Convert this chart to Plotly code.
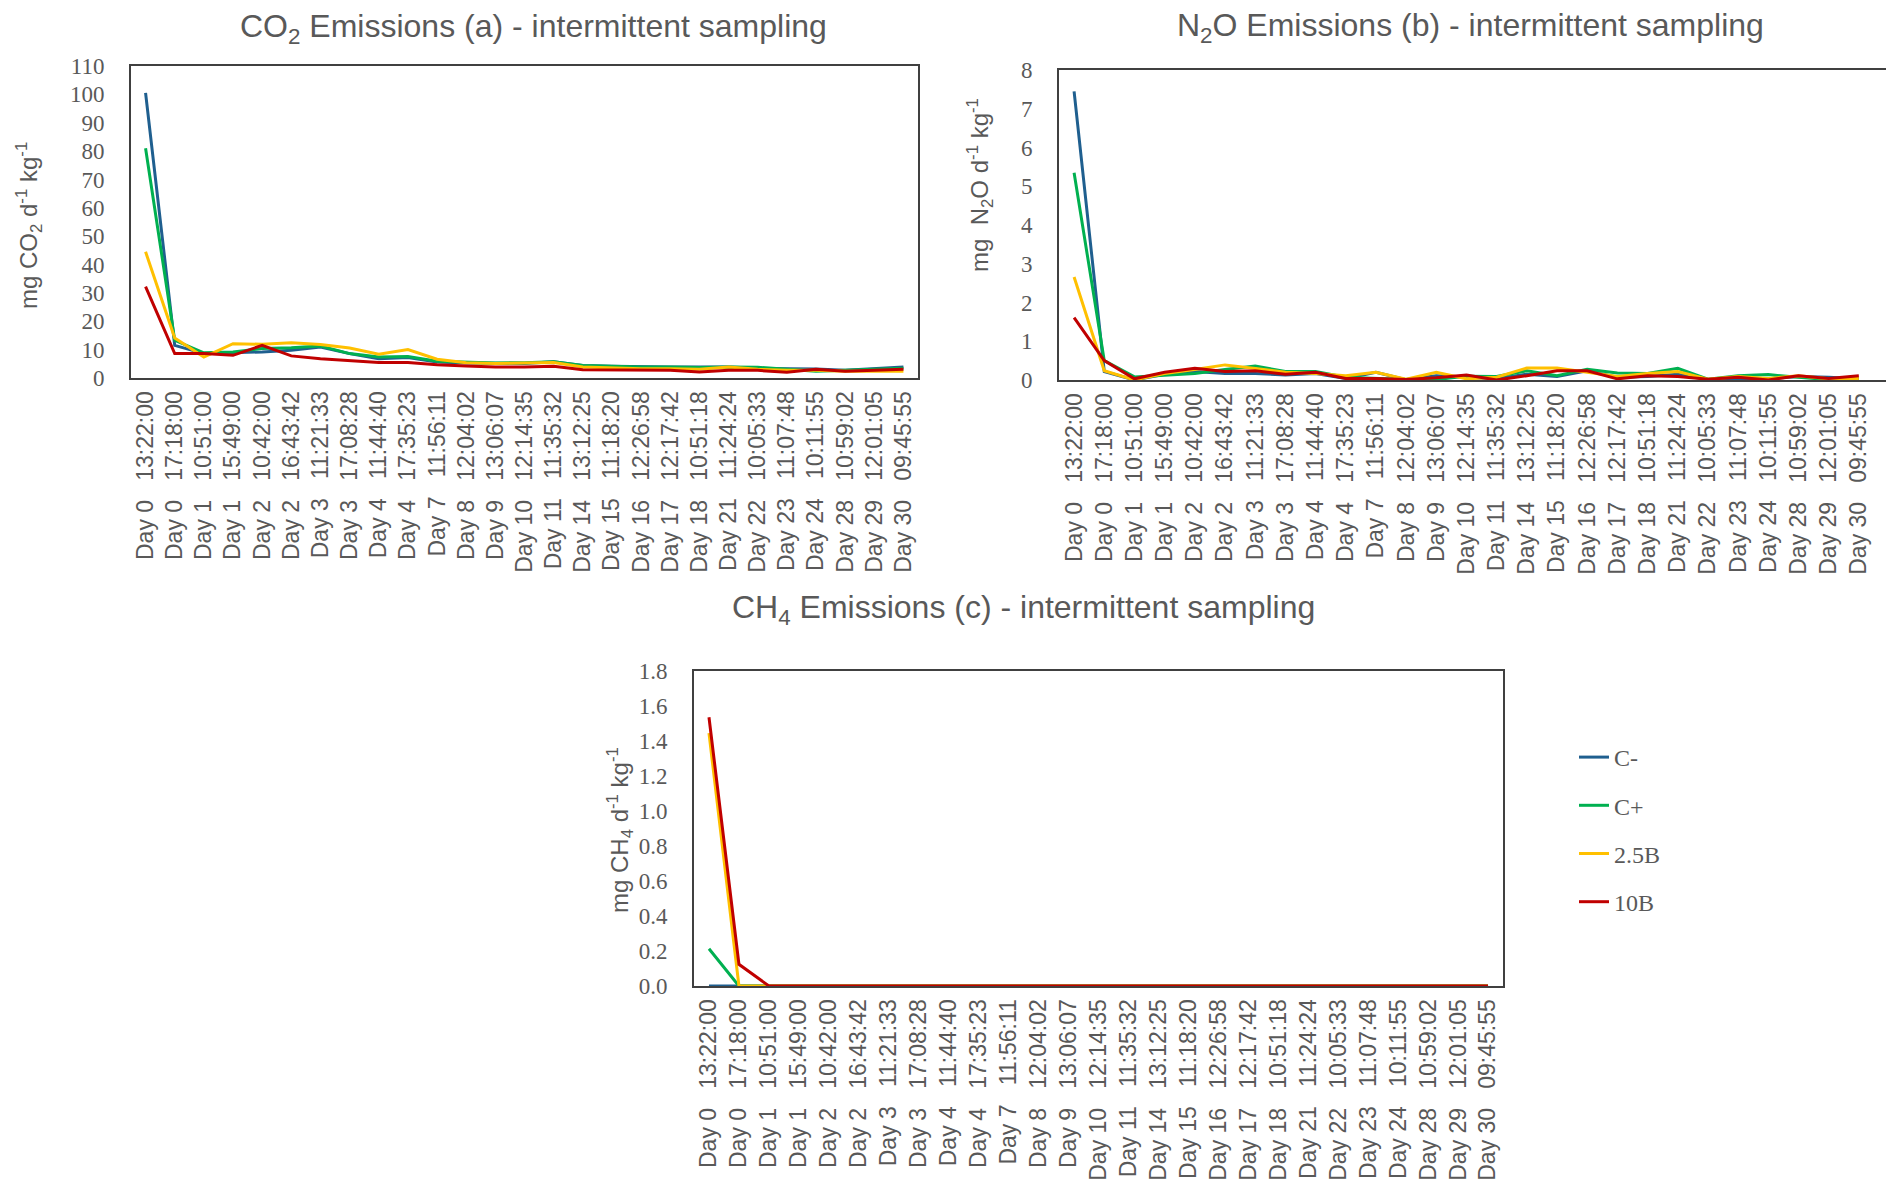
import plotly.graph_objects as go

# ---------------- data ----------------
days = ["Day 0", "Day 0", "Day 1", "Day 1", "Day 2", "Day 2", "Day 3", "Day 3", "Day 4", "Day 4",
        "Day 7", "Day 8", "Day 9", "Day 10", "Day 11", "Day 14", "Day 15", "Day 16", "Day 17", "Day 18",
        "Day 21", "Day 22", "Day 23", "Day 24", "Day 28", "Day 29", "Day 30"]
times = ["13:22:00", "17:18:00", "10:51:00", "15:49:00", "10:42:00", "16:43:42", "11:21:33", "17:08:28",
         "11:44:40", "17:35:23", "11:56:11", "12:04:02", "13:06:07", "12:14:35", "11:35:32", "13:12:25",
         "11:18:20", "12:26:58", "12:17:42", "10:51:18", "11:24:24", "10:05:33", "11:07:48", "10:11:55",
         "10:59:02", "12:01:05", "09:45:55"]
series_names = ["C-", "C+", "2.5B", "10B"]

co2_c_minus = [100.5, 11.5, 8.6, 8.9, 9.2, 9.8, 10.9, 8.6, 6.8, 7.2, 5.6, 5.3, 5.1, 5.1, 5.7, 4.4, 4.1, 3.9, 3.9, 3.9, 3.9, 3.4, 3.3, 3.2, 2.7, 3.3, 3.9]
co2_c_plus = [81.0, 13.3, 8.9, 9.2, 10.4, 10.7, 11.3, 8.6, 7.4, 7.6, 5.9, 5.5, 5.3, 5.4, 5.7, 4.4, 4.1, 3.9, 3.9, 3.7, 3.9, 3.8, 3.1, 2.4, 2.7, 3.1, 3.4]
co2_25b = [44.5, 14.1, 7.4, 12.1, 11.9, 12.4, 11.8, 10.6, 8.4, 10.0, 6.6, 5.4, 5.1, 5.3, 5.5, 3.9, 3.5, 3.3, 3.3, 3.1, 3.9, 3.1, 2.7, 2.7, 2.4, 2.5, 2.4]
co2_10b = [32.2, 8.6, 8.6, 8.0, 11.5, 7.8, 6.8, 6.2, 5.5, 5.5, 4.7, 4.2, 3.9, 3.9, 4.1, 2.9, 2.8, 2.7, 2.7, 2.1, 2.7, 2.7, 2.0, 3.1, 2.4, 2.7, 3.1]

n2o_c_minus = [7.45, 0.22, 0.0, 0.15, 0.22, 0.17, 0.17, 0.13, 0.17, 0.04, 0.2, 0.01, 0.11, 0.07, 0.03, 0.15, 0.09, 0.24, 0.07, 0.09, 0.15, 0.01, 0.01, 0.03, 0.09, 0.07, 0.03]
n2o_c_plus = [5.35, 0.5, 0.08, 0.13, 0.17, 0.27, 0.36, 0.22, 0.22, 0.07, 0.04, 0.01, 0.01, 0.1, 0.09, 0.24, 0.11, 0.28, 0.18, 0.17, 0.30, 0.02, 0.11, 0.14, 0.07, 0.01, 0.03]
n2o_25b = [2.66, 0.24, 0.0, 0.17, 0.27, 0.39, 0.30, 0.2, 0.17, 0.11, 0.2, 0.02, 0.2, 0.03, 0.07, 0.31, 0.31, 0.2, 0.09, 0.17, 0.22, 0.02, 0.09, 0.04, 0.11, 0.03, 0.04]
n2o_10b = [1.61, 0.5, 0.03, 0.2, 0.30, 0.22, 0.24, 0.15, 0.2, 0.04, 0.04, 0.01, 0.06, 0.13, 0.0, 0.11, 0.24, 0.24, 0.03, 0.11, 0.09, 0.02, 0.07, 0.0, 0.11, 0.04, 0.11]

ch4_c_minus = [0.0] * 27
ch4_c_plus = [0.213, 0.0, 0.0, 0.0, 0.0, 0.0, 0.0, 0.0, 0.0, 0.0, 0.0, 0.0, 0.0, 0.0, 0.0, 0.0, 0.0, 0.0, 0.0, 0.0, 0.0, 0.0, 0.0, 0.0, 0.0, 0.0, 0.0]
ch4_25b = [1.445, 0.0, 0.0, 0.0, 0.0, 0.0, 0.0, 0.0, 0.0, 0.0, 0.0, 0.0, 0.0, 0.0, 0.0, 0.0, 0.0, 0.0, 0.0, 0.0, 0.0, 0.0, 0.0, 0.0, 0.0, 0.0, 0.0]
ch4_10b = [1.536, 0.124, 0.0, 0.0, 0.0, 0.0, 0.0, 0.0, 0.0, 0.0, 0.0, 0.0, 0.0, 0.0, 0.0, 0.0, 0.0, 0.0, 0.0, 0.0, 0.0, 0.0, 0.0, 0.0, 0.0, 0.0, 0.0]

# ---------------- styling ----------------
colors = ["#1F5F8F", "#00B050", "#FFC000", "#C00000"]
GREY = "#595959"
W, H = 1886, 1184
NB = "\u00a0"
labels = [f"{d}{NB*3}{t}" for d, t in zip(days, times)]
xcat = list(range(len(labels)))

fig = go.Figure()

panels = [
    ("x", "y", [co2_c_minus, co2_c_plus, co2_25b, co2_10b], False),
    ("x2", "y2", [n2o_c_minus, n2o_c_plus, n2o_25b, n2o_10b], False),
    ("x3", "y3", [ch4_c_minus, ch4_c_plus, ch4_25b, ch4_10b], True),
]
for xa, ya, data, show in panels:
    for name, vals, col in zip(series_names, data, colors):
        fig.add_trace(go.Scatter(
            x=xcat, y=vals, mode="lines", name=name, xaxis=xa, yaxis=ya,
            line=dict(color=col, width=3), showlegend=show, legendgroup=name,
            hoverinfo="skip"))

def px_x(p):
    return p / W

def px_y(p):
    return 1 - p / H

LINE = "#404040"
xcommon = dict(
    tickmode="array", tickvals=xcat, ticktext=labels, tickangle=-90,
    tickfont=dict(family="Liberation Sans, Arial, sans-serif", size=23, color=GREY),
    showgrid=False, zeroline=False, showline=True, linecolor=LINE, linewidth=2,
    ticks="", ticklabelstandoff=2, automargin=False,
)
ycommon = dict(
    tickfont=dict(family="Liberation Serif, Times New Roman, serif", size=23, color=GREY),
    showgrid=False, zeroline=False, showline=True, linecolor=LINE, linewidth=2,
    ticks="", ticklabelstandoff=20, automargin=False,
)

fig.update_layout(
    width=W, height=H,
    margin=dict(l=0, r=0, t=0, b=0, autoexpand=False),
    paper_bgcolor="white", plot_bgcolor="white",
    xaxis=dict(domain=[px_x(131), px_x(918)], anchor="y", range=[-0.5, 26.5], mirror=True, **xcommon),
    yaxis=dict(domain=[px_y(378), px_y(66)], anchor="x", range=[0, 110], dtick=10, mirror=True, **ycommon),
    xaxis2=dict(domain=[px_x(1059), 1.0], anchor="y2", range=[-0.5, 26.9], mirror=True, **xcommon),
    yaxis2=dict(domain=[px_y(380), px_y(70)], anchor="x2", range=[0, 8], dtick=1, mirror=False, **ycommon),
    xaxis3=dict(domain=[px_x(694), px_x(1503)], anchor="y3", range=[-0.5, 26.5], mirror=True, **xcommon),
    yaxis3=dict(domain=[px_y(986), px_y(671)], anchor="x3", range=[0, 1.8], dtick=0.2, tickformat=".1f", mirror=True, **ycommon),
    legend=dict(
        x=px_x(1574), y=px_y(735), xanchor="left", yanchor="top",
        font=dict(family="Liberation Serif, Times New Roman, serif", size=24, color=GREY),
        tracegroupgap=14, bgcolor="rgba(0,0,0,0)",
    ),
)

title_font = dict(family="Liberation Sans, Arial, sans-serif", size=32, color=GREY)
axis_title_font = dict(family="Liberation Sans, Arial, sans-serif", size=24, color=GREY)
annotations = [
    dict(text="CO<sub>2</sub> Emissions (a) - intermittent sampling", x=px_x(533), y=px_y(28), font=title_font),
    dict(text="N<sub>2</sub>O Emissions (b) - intermittent sampling", x=px_x(1470), y=px_y(27), font=title_font),
    dict(text="CH<sub>4</sub> Emissions (c) - intermittent sampling", x=px_x(1023), y=px_y(609), font=title_font),
    dict(text="mg CO<sub>2</sub> d<sup>-1</sup> kg<sup>-1</sup>", x=px_x(29), y=px_y(226), font=axis_title_font, textangle=-90),
    dict(text=f"mg{NB}{NB}N<sub>2</sub>O d<sup>-1</sup> kg<sup>-1</sup>", x=px_x(980), y=px_y(185), font=axis_title_font, textangle=-90),
    dict(text="mg CH<sub>4</sub> d<sup>-1</sup> kg<sup>-1</sup>", x=px_x(620), y=px_y(830), font=axis_title_font, textangle=-90),
]
for a in annotations:
    fig.add_annotation(xref="paper", yref="paper", xanchor="center", yanchor="middle", showarrow=False, **a)

fig.write_html("out.html", config={"displayModeBar": False},
               post_script="document.body.style.margin='0';document.body.style.overflow='hidden';")
